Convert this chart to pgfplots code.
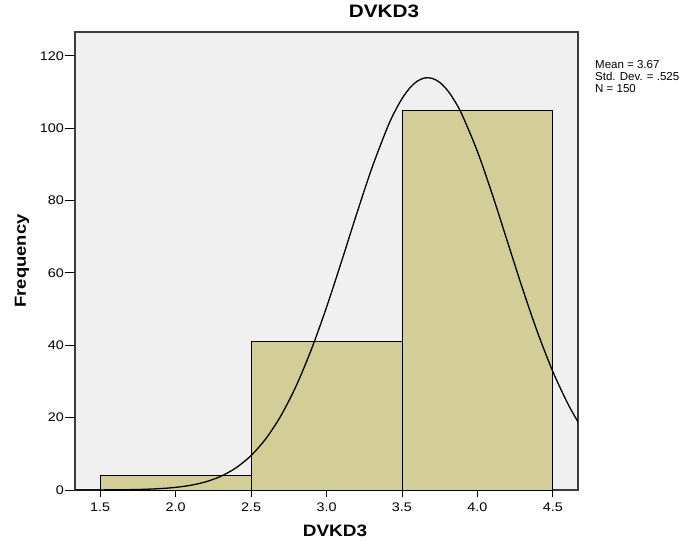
\documentclass[border=0pt]{standalone}
\usepackage{pgfplots}
\pgfplotsset{compat=1.18}
\usepackage{fontspec}
\setmainfont{Liberation Sans}[FakeStretch=1.15]
\newfontfamily\annfont{Liberation Sans}
\definecolor{bgc}{RGB}{240,240,240}
\definecolor{barc}{RGB}{211,206,152}
\definecolor{framec}{RGB}{60,60,60}
\begin{document}
\begin{tikzpicture}
\path[use as bounding box] (-75pt,-50pt) rectangle (609pt,490pt);
\begin{axis}[
  at={(0pt,0pt)}, anchor=south west,
  scale only axis, width=503pt, height=458pt,
  xmin=1.334, xmax=4.666, ymin=0, ymax=126.6,
  axis background/.style={fill=bgc},
  axis line style={framec, line width=1.1pt},
  xtick={1.5,2.0,2.5,3.0,3.5,4.0,4.5},
  ytick={0,20,40,60,80,100,120},
  xtick pos=lower, ytick pos=left,
  tick align=outside,
  major tick length=10pt,
  x tick style={black, line width=0.9pt, /pgfplots/major tick length=7pt},
  y tick style={black, line width=0.9pt},
  /pgf/number format/assume math mode=true,
  xticklabel style={font=\fontsize{12.5}{14}\selectfont, inner sep=3pt, /pgf/number format/.cd, fixed, fixed zerofill, precision=1},
  yticklabel style={font=\fontsize{12.5}{14}\selectfont, inner sep=1pt},
  title={\bfseries DVKD3},
  title style={font=\fontsize{18}{20}\selectfont, at={(axis description cs:0,1)}, anchor=center, xshift=309pt, yshift=14.5pt},
  xlabel={\bfseries DVKD3},
  xlabel style={font=\fontsize{16.5}{18}\selectfont, at={(axis description cs:0,0)}, anchor=center, xshift=260pt, yshift=-41pt},
  ylabel={\bfseries Frequency},
  ylabel style={font=\fontsize{16}{18}\selectfont, at={(axis description cs:0,0.5)}, anchor=center, yshift=53pt},
  clip=true,
]
\addplot[ybar interval, fill=barc, draw=black, line width=0.9pt] coordinates {
  (1.5,4) (2.5,41) (3.5,105) (4.5,105)
};
\addplot[black, line width=1.3pt, smooth, mark=none] coordinates {
  (1.334,0.003) (1.4,0.010) (1.5,0.022) (1.6,0.048) (1.7,0.100) (1.8,0.200)
  (1.9,0.388) (2.0,0.724) (2.1,1.303) (2.2,2.261) (2.3,3.785) (2.4,6.111)
  (2.5,9.513) (2.6,14.28) (2.7,20.68) (2.8,28.87) (2.9,38.88) (3.0,50.49)
  (3.1,63.22) (3.2,76.35) (3.3,88.92) (3.4,99.86) (3.45,104.40) (3.5,108.16)
  (3.55,111.04) (3.6,112.97) (3.65,113.90) (3.7,113.79) (3.75,112.67)
  (3.8,110.54) (3.85,107.47) (3.9,103.55) (4.0,93.55)
  (4.1,81.50) (4.2,68.47) (4.3,55.48) (4.4,43.35) (4.5,32.66) (4.6,23.74)
  (4.666,18.85)
};
\end{axis}
\node[anchor=north west, inner sep=0pt, align=left, font=\annfont\fontsize{11.5}{12}\selectfont] at (520pt,430pt) {Mean = 3.67\\Std. Dev. = .525\\N = 150};
\end{tikzpicture}
\end{document}
